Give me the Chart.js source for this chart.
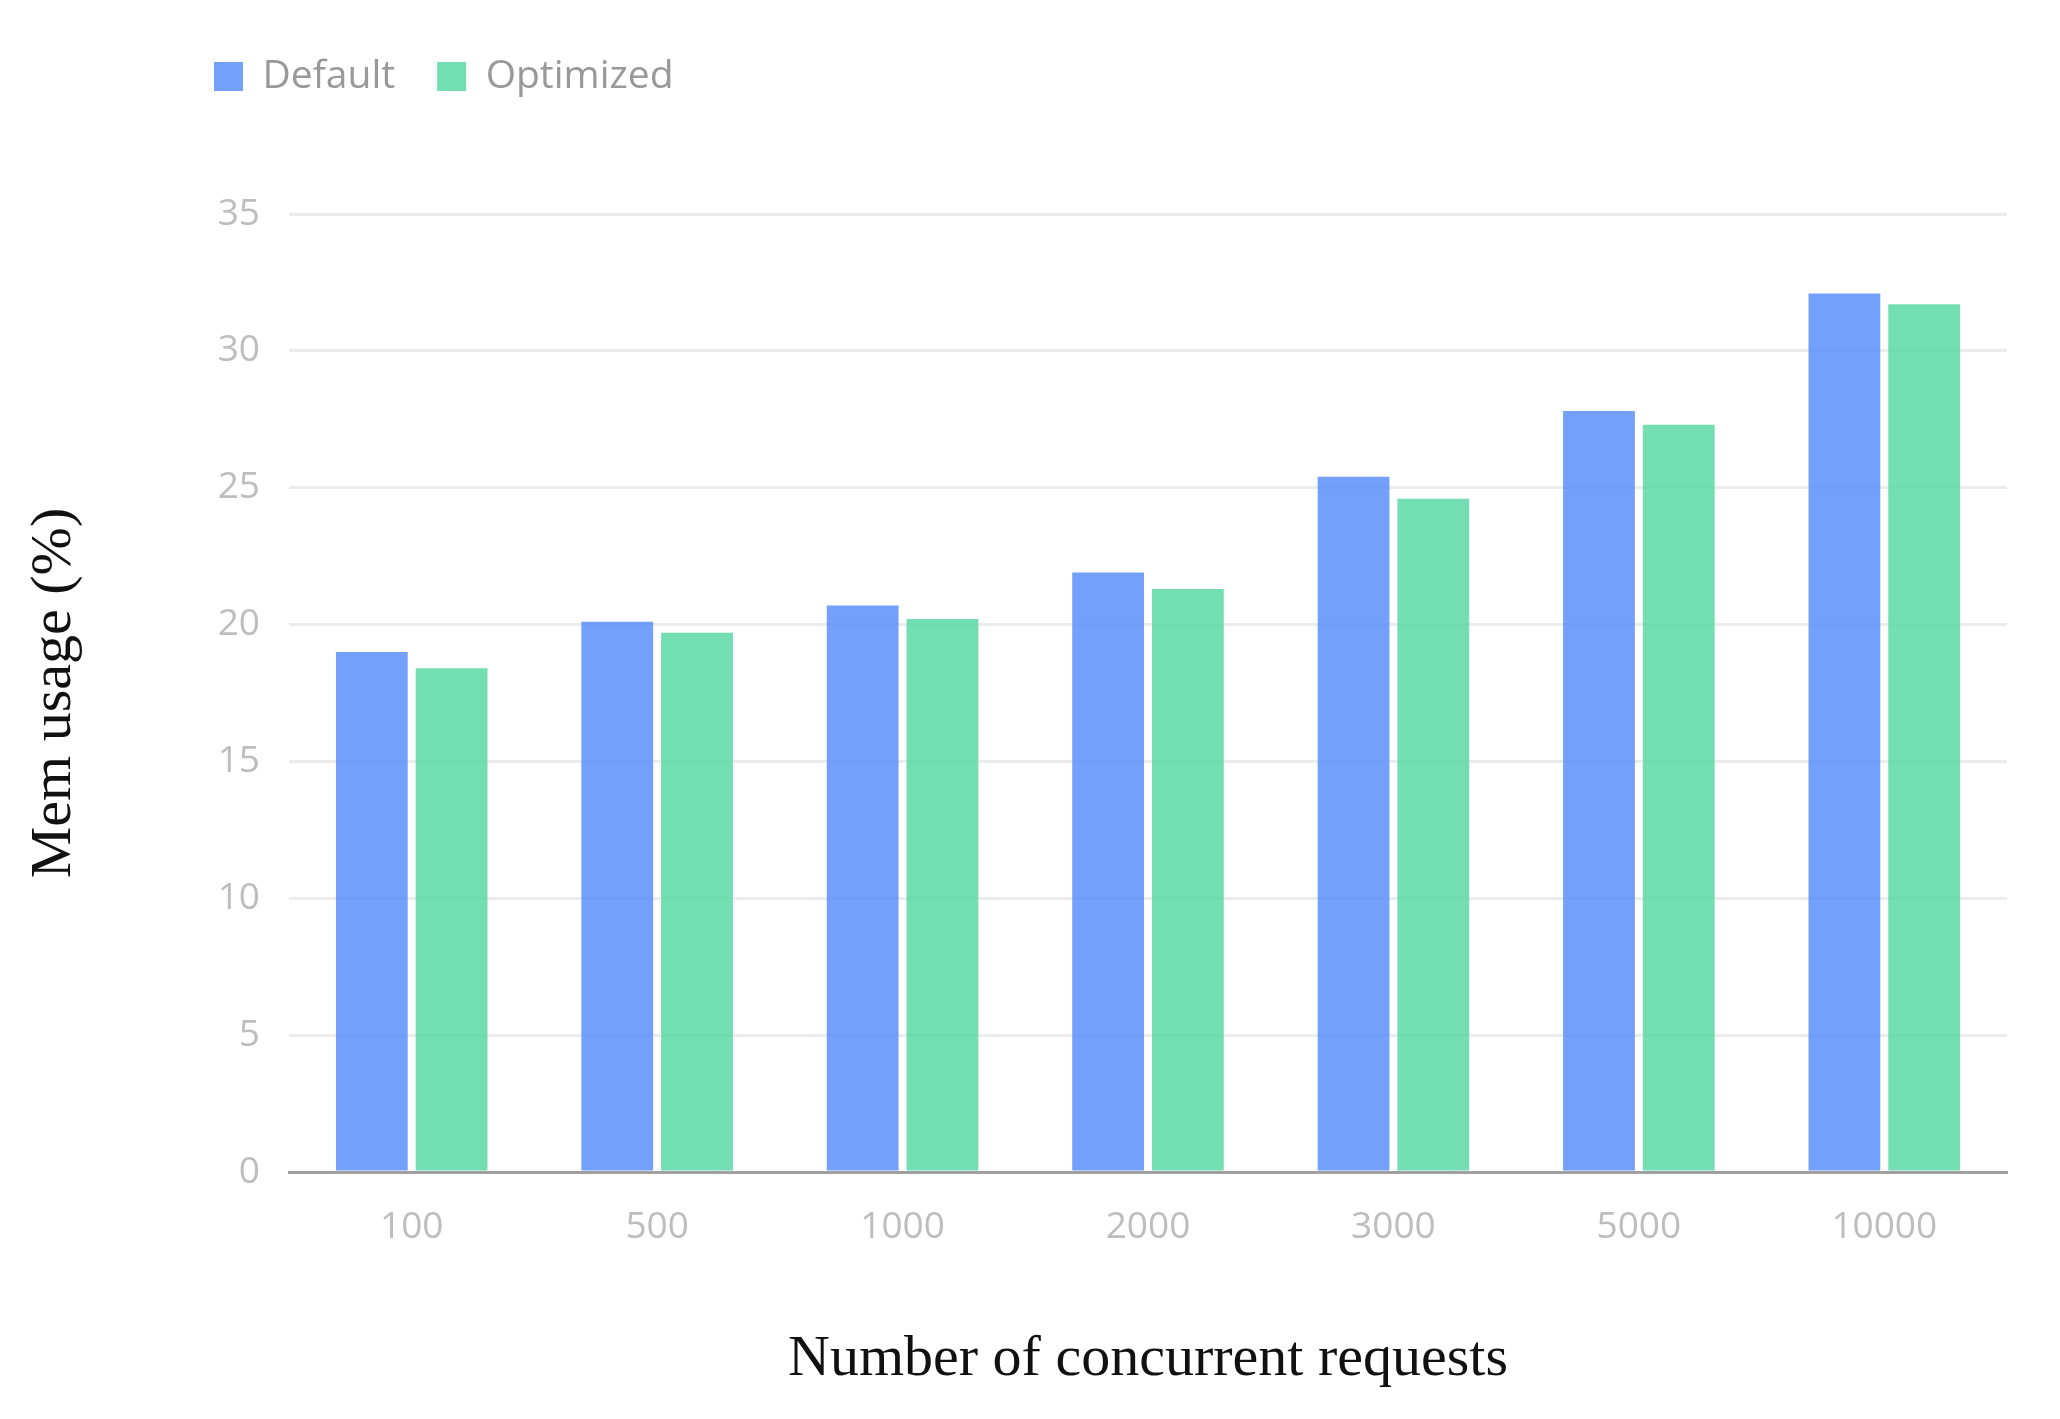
<!DOCTYPE html>
<html>
<head>
<meta charset="utf-8">
<title>Mem usage</title>
<script src="https://cdn.jsdelivr.net/npm/chart.js@4"></script>
<style>
  html, body { margin: 0; padding: 0; background: #fff; }
  canvas { display: block; }
</style>
</head>
<body>
<canvas id="memChart" width="2060" height="1419"></canvas>
<script>
// values
var requests = ['100', '500', '1000', '2000', '3000', '5000', '10000'];
var defaultMem = [19.0, 20.1, 20.7, 21.9, 25.4, 27.8, 32.1];
var optimizedMem = [18.4, 19.7, 20.2, 21.3, 24.6, 27.3, 31.7];
var yTicks = [0, 5, 10, 15, 20, 25, 30, 35];

// push legend to the left and leave room below it
var legendSpot = {
    id: 'legendSpot',
    beforeInit: function (chart) {
        var fit = chart.legend.fit;
        chart.legend.fit = function () {
            fit.call(this);
            this.height += 108;
        };
    },
    afterLayout: function (chart) {
        chart.legend.left = 172;
    }
};

var ctx = document.getElementById('memChart').getContext('2d');

var memChart = new Chart(ctx, {
    type: 'bar',
    data: {
        labels: requests,
        datasets: [{
            label: 'Default',
            data: defaultMem,
            backgroundColor: 'rgba(91, 143, 249, 0.85)',
            borderWidth: 0
        }, {
            label: 'Optimized',
            data: optimizedMem,
            backgroundColor: 'rgba(90, 216, 166, 0.85)',
            borderWidth: 0
        }]
    },
    options: {
        responsive: false,
        animation: false,
        devicePixelRatio: 1,
        layout: { padding: { top: 15, right: 53, left: 0, bottom: 0 } },
        datasets: {
            bar: { categoryPercentage: 0.65, barPercentage: 0.9 }
        },
        plugins: {
            legend: {
                position: 'top',
                align: 'start',
                labels: {
                    boxWidth: 29,
                    boxHeight: 29,
                    padding: 42,
                    color: '#999',
                    font: { family: 'Open Sans', size: 39 }
                }
            },
            tooltip: { enabled: false }
        },
        scales: {
            x: {
                grid: { display: false, drawTicks: false },
                border: { display: true, color: '#a0a0a0', width: 3 },
                ticks: {
                    color: '#bdbdbd',
                    padding: 33,
                    font: { family: 'Open Sans', size: 37 }
                },
                title: {
                    display: true,
                    text: 'Number of concurrent requests',
                    color: '#111',
                    padding: { top: 0, bottom: 24 },
                    font: { family: 'Liberation Serif', size: 58 }
                },
                afterFit: function (scale) { scale.height = 247; }
            },
            y: {
                min: 0,
                max: 35,
                afterBuildTicks: function (scale) {
                    scale.ticks = yTicks.map(function (v) { return { value: v }; });
                },
                grid: { color: '#ececec', lineWidth: 3, drawTicks: false },
                border: { display: false },
                ticks: {
                    color: '#bdbdbd',
                    padding: 29,
                    font: { family: 'Open Sans', size: 37 }
                },
                title: {
                    display: true,
                    text: 'Mem usage (%)',
                    color: '#111',
                    padding: { top: 20, bottom: 0 },
                    font: { family: 'Liberation Serif', size: 58 }
                },
                afterFit: function (scale) { scale.width = 289; }
            }
        }
    },
    plugins: [legendSpot]
});
</script>
</body>
</html>
